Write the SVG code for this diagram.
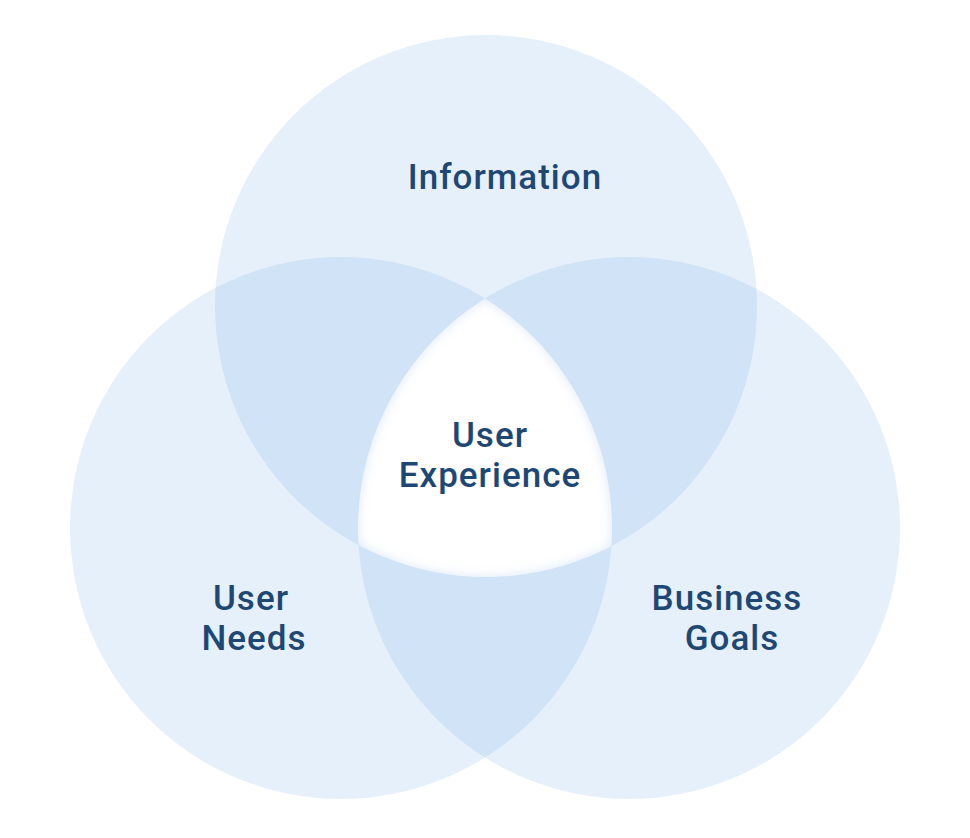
<svg xmlns="http://www.w3.org/2000/svg" width="970" height="838" viewBox="0 0 970 838">
  <defs>
    <style>
      .circle { fill: #E6F0FB; }
      .pair { fill: #D0E3F7; }
      .label { font-family: Roboto, "Liberation Sans", sans-serif; font-weight: 500; font-size: 35px; fill: #1E4873; text-anchor: middle; letter-spacing: 1px; }
    </style>
    <clipPath id="clipTop"><circle cx="486" cy="306" r="271"/></clipPath>
    <clipPath id="clipLeft"><circle cx="341" cy="528" r="271"/></clipPath>
    <clipPath id="clipRight"><circle cx="629" cy="528" r="271"/></clipPath>
    <filter id="soft" x="-20%" y="-20%" width="140%" height="140%">
      <feGaussianBlur stdDeviation="6"/>
    </filter>
  </defs>
  <rect width="970" height="838" fill="#FFFFFF"/>
  <g id="circle-information">
    <circle class="circle" cx="486" cy="306" r="271"/>
  </g>
  <g id="circle-user-needs">
    <circle class="circle" cx="341" cy="528" r="271"/>
  </g>
  <g id="circle-business-goals">
    <circle class="circle" cx="629" cy="528" r="271"/>
  </g>
  <g id="overlaps">
    <g clip-path="url(#clipTop)"><circle class="pair" cx="341" cy="528" r="271"/></g>
    <g clip-path="url(#clipTop)"><circle class="pair" cx="629" cy="528" r="271"/></g>
    <g clip-path="url(#clipLeft)"><circle class="pair" cx="629" cy="528" r="271"/></g>
  </g>
  <g id="user-experience">
    <g clip-path="url(#clipTop)">
      <g clip-path="url(#clipLeft)">
        <g clip-path="url(#clipRight)">
          <rect x="300" y="280" width="370" height="320" fill="#DCE9F8"/>
          <g filter="url(#soft)">
            <g clip-path="url(#clipTop)"><g clip-path="url(#clipLeft)"><g clip-path="url(#clipRight)">
              <rect x="300" y="280" width="370" height="320" fill="#FFFFFF"/>
            </g></g></g>
          </g>
        </g>
      </g>
    </g>
  </g>
  <g id="labels">
    <text class="label" x="505" y="189">Information</text>
    <text class="label" x="490" y="447">User</text>
    <text class="label" x="490" y="487">Experience</text>
    <text class="label" x="251" y="610">User</text>
    <text class="label" x="254" y="650">Needs</text>
    <text class="label" x="727" y="610">Business</text>
    <text class="label" x="732" y="650">Goals</text>
  </g>
</svg>
